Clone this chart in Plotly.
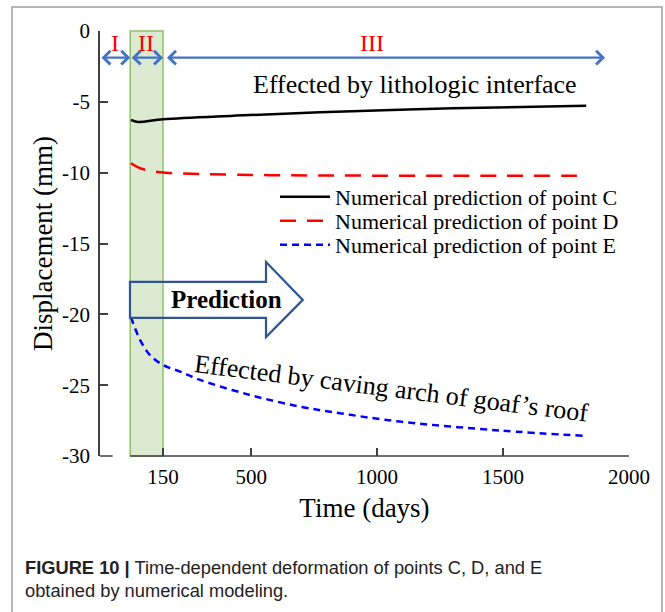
import plotly.graph_objects as go

# ---- data ----
days_C = [23, 50, 150, 430, 773, 1300, 1830]
disp_C = [-6.28, -6.42, -6.23, -5.98, -5.74, -5.46, -5.27]

days_D = [23, 59, 138, 297, 600, 1000, 1500, 1830]
disp_D = [-9.34, -9.69, -9.97, -10.09, -10.18, -10.21, -10.22, -10.21]

days_E = [23, 59, 98, 150, 218, 297, 495, 693, 852, 1090, 1487, 1825]
disp_E = [-20.2, -21.8, -22.87, -23.57, -24.04, -24.63, -25.69, -26.51, -26.98, -27.57, -28.2, -28.58]

names = ["Numerical prediction of point C",
         "Numerical prediction of point D",
         "Numerical prediction of point E"]

x_tickvals = [150, 500, 1000, 1500, 2000]
x_ticktext = ["150", "500", "1000", "1500", "2000"]
y_tickvals = [0, -5, -10, -15, -20, -25, -30]
y_ticktext = ["0", "-5", "-10", "-15", "-20", "-25", "-30"]

# stage boundaries (days)
stage_bounds = [-100, 20, 150, 160, 1905]
stage_labels = ["I", "II", "III"]
stage_label_x = [-40, 82, 979]

SERIF = "Liberation Serif, Times New Roman, serif"
SANS = "Liberation Sans, Arial, sans-serif"

L, R, T, B = 100, 36, 31, 156
W, H = 665, 612
pw, ph = W - L - R, H - T - B


def px_x(p):
    return (p - L) / pw


def px_y(p):
    return (H - B - p) / ph


fig = go.Figure()
fig.add_trace(go.Scatter(x=days_C, y=disp_C, mode="lines", name=names[0], legend="legend",
                         line=dict(color="black", width=2.5, shape="spline")))
fig.add_trace(go.Scatter(x=days_D, y=disp_D, mode="lines", name=names[1], legend="legend2",
                         line=dict(color="#FF0000", width=2.5, shape="spline",
                                   dash="16px,11px")))
fig.add_trace(go.Scatter(x=days_E, y=disp_E, mode="lines", name=names[2], legend="legend3",
                         line=dict(color="#0000FF", width=2.5, shape="spline",
                                   dash="7px,5px")))

shapes = []
# green band (stage II)
shapes.append(dict(type="rect", xref="x", yref="paper", x0=stage_bounds[1], x1=stage_bounds[2],
                   y0=0, y1=1, fillcolor="rgba(112,173,71,0.25)",
                   line=dict(color="#8FC06A", width=1.5), layer="below"))
# x axis line (broken)
shapes.append(dict(type="line", xref="x", yref="paper", x0=-100, x1=-50, y0=0, y1=0,
                   line=dict(color="#404040", width=1.5)))
shapes.append(dict(type="line", xref="x", yref="paper", x0=20, x1=2000, y0=0, y1=0,
                   line=dict(color="#404040", width=1.5)))
# prediction arrow outline
shapes.append(dict(type="path", xref="x", yref="y",
                   path="M 19,-17.71 L 559,-17.71 L 559,-16.30 L 705,-18.98 L 559,-21.6 L 559,-20.25 L 19,-20.25 Z",
                   line=dict(color="#2F5597", width=2.2), fillcolor="rgba(0,0,0,0)"))
# outer figure border
shapes.append(dict(type="rect", xref="paper", yref="paper", x0=px_x(12), x1=px_x(662),
                   y0=px_y(640), y1=px_y(7), line=dict(color="#A0A0A0", width=1.5),
                   fillcolor="rgba(0,0,0,0)"))

annotations = []
# stage arrows
for i in range(3):
    x_end = stage_bounds[i + 1] if i < 2 else stage_bounds[4]
    x_start = stage_bounds[i] if i < 2 else stage_bounds[3]
    annotations.append(dict(x=x_end, y=-1.88, ax=x_start, ay=-1.88,
                            xref="x", yref="y", axref="x", ayref="y", text="",
                            showarrow=True, arrowside="end+start", arrowhead=4,
                            startarrowhead=4, arrowsize=1.2, startarrowsize=1.2,
                            arrowwidth=2.2, arrowcolor="#4472C4"))
    annotations.append(dict(x=stage_label_x[i], y=-0.85, xref="x", yref="y",
                            text=stage_labels[i], showarrow=False,
                            font=dict(family=SERIF, size=24, color="#FF0000")))

annotations.append(dict(x=1150, y=-3.81, xref="x", yref="y", showarrow=False,
                        text="Effected by lithologic interface",
                        font=dict(family=SERIF, size=26, color="black")))
annotations.append(dict(x=404, y=-18.98, xref="x", yref="y", showarrow=False,
                        text="<b>Prediction</b>",
                        font=dict(family=SERIF, size=25, color="black")))
annotations.append(dict(x=1059, y=-25.2, xref="x", yref="y", showarrow=False,
                        text="Effected by caving arch of goaf\u2019s roof", textangle=7.2,
                        font=dict(family=SERIF, size=26, color="black")))
# caption
annotations.append(dict(x=px_x(23), y=px_y(567), xref="paper", yref="paper", showarrow=False,
                        text="<b>FIGURE 10 |</b> Time-dependent deformation of points C, D, and E",
                        xanchor="left", yanchor="middle",
                        font=dict(family=SANS, size=18.3, color="#222222")))
annotations.append(dict(x=px_x(23), y=px_y(590), xref="paper", yref="paper", showarrow=False,
                        text="obtained by numerical modeling.",
                        xanchor="left", yanchor="middle",
                        font=dict(family=SANS, size=18.3, color="#222222")))

leg_common = dict(xanchor="left", yanchor="middle", bgcolor="rgba(0,0,0,0)",
                  font=dict(family=SERIF, size=22, color="black"), itemwidth=50)

fig.update_layout(
    width=W, height=H,
    margin=dict(l=L, r=R, t=T, b=B, autoexpand=False),
    paper_bgcolor="white", plot_bgcolor="white",
    font=dict(family=SERIF, color="black"),
    shapes=shapes, annotations=annotations,
    showlegend=True,
    legend=dict(x=px_x(275), y=px_y(197), **leg_common),
    legend2=dict(x=px_x(275), y=px_y(221), **leg_common),
    legend3=dict(x=px_x(275), y=px_y(245), **leg_common),
    xaxis=dict(range=[-100, 2000], showgrid=False, zeroline=False, showline=False,
               automargin=False,
               tickmode="array", tickvals=x_tickvals, ticktext=x_ticktext,
               ticks="inside", ticklen=8, tickwidth=1.5, tickcolor="#404040",
               ticklabelstandoff=6,
               tickfont=dict(family=SERIF, size=21, color="black"),
               title=dict(text="Time (days)", standoff=10,
                          font=dict(family=SERIF, size=27, color="black"))),
    yaxis=dict(range=[-30, 0], showgrid=False, zeroline=False, showline=True,
               automargin=False,
               linecolor="#404040", linewidth=1.5,
               tickmode="array", tickvals=y_tickvals, ticktext=y_ticktext,
               ticks="inside", ticklen=8, tickwidth=1.5, tickcolor="#404040",
               ticklabelstandoff=4,
               tickfont=dict(family=SERIF, size=21, color="black"),
               title=dict(text="Displacement (mm)", standoff=2,
                          font=dict(family=SERIF, size=27, color="black"))),
)

fig.write_html("out.html", config={"displayModeBar": False},
               post_script="document.body.style.margin='0';")
